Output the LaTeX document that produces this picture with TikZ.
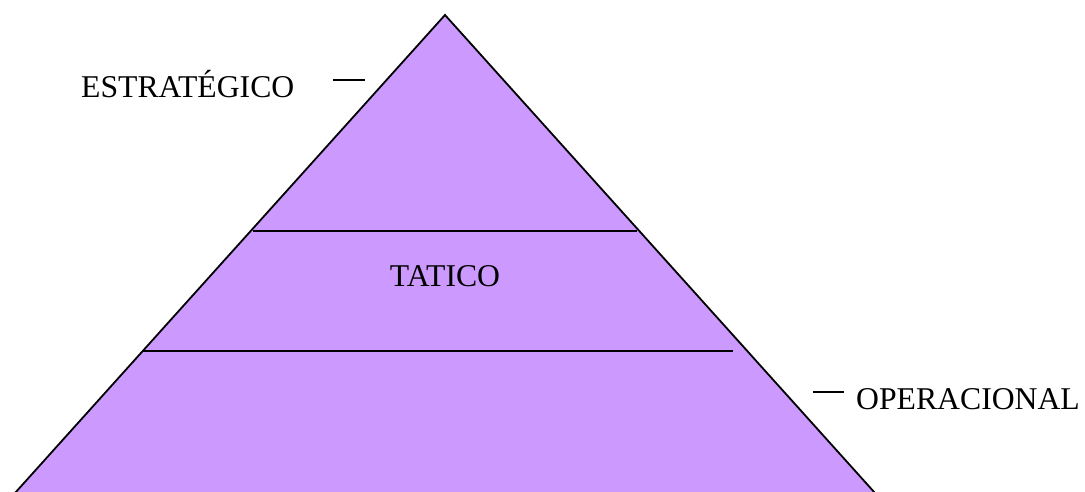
\documentclass[tikz,border=0pt]{standalone}
\usepackage{fontspec}
\setmainfont{Liberation Serif}
\definecolor{pyr}{RGB}{204,153,255}
\begin{document}
\begin{tikzpicture}[x=1pt,y=-1pt,
  lbl/.style={font=\fontsize{31.7}{36}\selectfont, inner sep=0pt, text=black},
  edge/.style={draw=black, line width=1.8pt},
  level/.style={draw=black, line width=1.5pt},
  tick/.style={draw=black, line width=1.4pt}]
\useasboundingbox (0,0) rectangle (1085,492);
\clip (0,0) rectangle (1085,492);
\coordinate (apex) at (445,15);
\coordinate (bl) at (15,493);
\coordinate (br) at (875,493);
\fill[pyr] (apex) -- (bl) -- (br) -- cycle;
\draw[edge, line join=miter] (bl) -- (apex) -- (br);
\coordinate (l1a) at (253,231);
\coordinate (l1b) at (637,231);
\coordinate (l2a) at (143,351);
\coordinate (l2b) at (733,351);
\draw[level] (l1a) -- (l1b);
\draw[level] (l2a) -- (l2b);
\node[lbl, anchor=base west] (estr) at (81,98) {ESTRATÉGICO};
\node[lbl, anchor=base] (tat) at (445,286) {TATICO};
\node[lbl, anchor=base west] (oper) at (856,409) {OPERACIONAL};
\coordinate (d1a) at (333,80);
\coordinate (d1b) at (365,80);
\coordinate (d2a) at (813,392);
\coordinate (d2b) at (844,392);
\draw[tick] (d1a) -- (d1b);
\draw[tick] (d2a) -- (d2b);
\end{tikzpicture}
\end{document}
